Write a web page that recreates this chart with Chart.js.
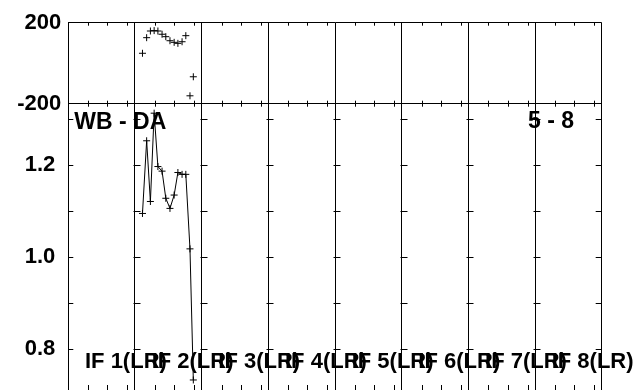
<!DOCTYPE html>
<html><head><meta charset="utf-8">
<style>html,body{margin:0;padding:0;background:#fff;overflow:hidden;height:390px}#wrap{width:641px;height:390px;overflow:hidden}#c{display:block}</style>
<script src="https://cdn.jsdelivr.net/npm/chart.js@4"></script>
</head><body>
<div id="wrap"><canvas id="c" width="641" height="395"></canvas></div>
<script>
// ---- data ----
const ifLabels = ['IF 1(LR)', 'IF 2(LR)', 'IF 3(LR)', 'IF 4(LR)', 'IF 5(LR)', 'IF 6(LR)', 'IF 7(LR)', 'IF 8(LR)'];
const channelX = [17.8, 18.8, 19.7, 20.6, 21.5, 22.5, 23.4, 24.4, 25.4, 26.3, 27.3, 28.2, 29.2, 30.0];
const phaseValues = [49, 126, 159, 161, 159, 143, 131, 111, 103, 98, 106, 136, -161, -67];
const ampValues = [1.094, 1.252, 1.120, 1.312, 1.196, 1.186, 1.127, 1.105, 1.134, 1.183, 1.179, 1.179, 1.017, 0.732];
const phaseTicks = [-200, 0, 200];
const phaseLabelled = [-200, 200];
const ampTicks = [0.8, 0.9, 1.0, 1.1, 1.2, 1.3];
const ampLabelled = [0.8, 1.0, 1.2];
const minorTicks = [4.8, 9.4, 14.2];
const baselineLabel = 'WB - DA';
const antennaLabel = '5 - 8';

const CH_PER_IF = 16;
const FONT = '"Liberation Sans", Arial, sans-serif';

const fixY = s => { s.width = 68.3; s.paddingTop = 0; s.paddingBottom = 0; };

const deco = {
  id: 'deco',
  afterDatasetsDraw(chart) {
    const {ctx, chartArea: a, scales} = chart;
    const x = scales.x, yP = scales.yP, yA = scales.yA;
    ctx.save();
    ctx.strokeStyle = '#000';
    ctx.lineWidth = 1;
    ctx.beginPath();
    for (let s = 0; s < ifLabels.length; s++) {
      for (const off of minorTicks) {
        const px = Math.round(x.getPixelForValue(s * CH_PER_IF + off)) + 0.5;
        ctx.moveTo(px, yP.top); ctx.lineTo(px, yP.top + 3);
        ctx.moveTo(px, yP.bottom - 3); ctx.lineTo(px, yP.bottom + 3);
        ctx.moveTo(px, yA.bottom - 5); ctx.lineTo(px, yA.bottom);
      }
    }
    for (const v of ampTicks) {
      const py = Math.round(yA.getPixelForValue(v)) + 0.5;
      ctx.moveTo(a.left, py); ctx.lineTo(a.left + 5, py);
      for (let s = 1; s < ifLabels.length; s++) {
        const px = Math.round(x.getPixelForValue(s * CH_PER_IF)) + 0.5;
        ctx.moveTo(px - 2, py); ctx.lineTo(px + 5, py);
      }
      ctx.moveTo(a.right - 6, py); ctx.lineTo(a.right, py);
    }
    ctx.stroke();
    ctx.fillStyle = '#000';
    ctx.font = 'bold 22px ' + FONT;
    ctx.textBaseline = 'middle';
    ctx.textAlign = 'left';
    ifLabels.forEach((t, i) => ctx.fillText(t, x.getPixelForValue(i * CH_PER_IF + 4), 362));
    ctx.font = 'bold 23px ' + FONT;
    ctx.fillText(baselineLabel, a.left + 6, yA.top + 19);
    ctx.fillText(antennaLabel, 528, yA.top + 18);
    ctx.restore();
  }
};

new Chart(document.getElementById('c'), {
  type: 'line',
  data: {
    datasets: [
      {
        label: 'phase',
        yAxisID: 'yP',
        data: channelX.map((c, i) => ({x: c, y: phaseValues[i]})),
        showLine: false,
        borderColor: '#000',
        backgroundColor: '#000',
        pointStyle: 'cross',
        pointRadius: 3.5,
        pointBorderWidth: 1
      },
      {
        label: 'amplitude',
        yAxisID: 'yA',
        data: channelX.map((c, i) => ({x: c, y: ampValues[i]})),
        showLine: true,
        borderColor: '#000',
        backgroundColor: '#000',
        borderWidth: 1,
        tension: 0,
        pointStyle: 'cross',
        pointRadius: 3.5,
        pointBorderWidth: 1
      }
    ]
  },
  options: {
    responsive: false,
    animation: false,
    devicePixelRatio: 1,
    layout: {padding: {top: 22.7, right: 39.3, left: 0, bottom: 0}},
    plugins: {legend: {display: false}, tooltip: {enabled: false}},
    scales: {
      x: {
        type: 'linear', position: 'bottom',
        min: 0, max: ifLabels.length * CH_PER_IF,
        afterBuildTicks: s => { s.ticks = ifLabels.map((_, i) => ({value: i * CH_PER_IF})).concat([{value: ifLabels.length * CH_PER_IF}]); },
        ticks: {display: false},
        grid: {color: '#000', lineWidth: 1, drawTicks: false},
        border: {display: false},
        afterFit: s => { s.height = 0; s.paddingLeft = 0; s.paddingRight = 0; }
      },
      yA: {
        type: 'linear', position: 'left', stack: 'v', stackWeight: 286.3,
        min: 0.7102, max: 1.3326,
        afterBuildTicks: s => { s.ticks = ampTicks.map(v => ({value: v})); },
        ticks: {
          color: '#000', padding: 13,
          font: {family: FONT, size: 22, weight: 'bold'},
          callback: v => ampLabelled.some(t => Math.abs(t - v) < 1e-6) ? v.toFixed(1) : ''
        },
        grid: {display: false, drawTicks: false},
        border: {display: true, color: '#000', width: 1},
        afterFit: fixY
      },
      yP: {
        type: 'linear', position: 'left', stack: 'v', stackWeight: 81,
        min: -200, max: 200,
        afterBuildTicks: s => { s.ticks = phaseTicks.map(v => ({value: v})); },
        ticks: {
          color: '#000', padding: 7,
          font: {family: FONT, size: 22, weight: 'bold'},
          callback: v => phaseLabelled.includes(v) ? String(v) : ''
        },
        grid: {color: '#000', lineWidth: 1, drawTicks: false},
        border: {display: true, color: '#000', width: 1},
        afterFit: fixY
      }
    }
  },
  plugins: [deco]
});
</script>
</body></html>
